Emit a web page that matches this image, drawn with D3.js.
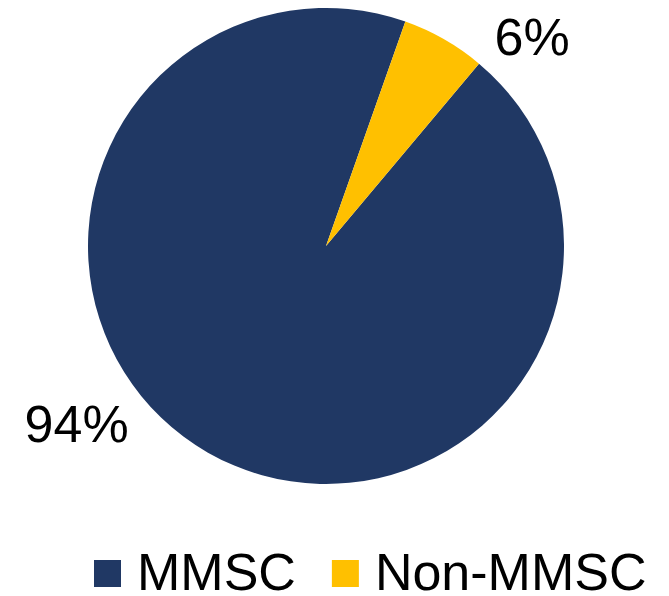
<!DOCTYPE html>
<html>
<head>
<meta charset="utf-8">
<script src="https://cdn.jsdelivr.net/npm/d3@7"></script>
<style>
  html, body { margin: 0; padding: 0; background: #fff; }
  svg { display: block; font-family: "Liberation Sans", Arial, sans-serif; }
</style>
</head>
<body>
<svg id="chart" width="669" height="596"></svg>
<script>
// ---- data ----
const categories = ["MMSC", "Non-MMSC"];
const shares = [94.3, 5.7];
const colors = ["#203864", "#FFC000"];

// ---- layout ----
const W = 669, H = 596;
const cx = 326, cy = 246, R = 238;
const startDeg = 40;                       // first slice starts here (clockwise from 12 o'clock)
const labelPlacement = [                   // polar placement of each percent label
  { angleDeg: 234.6, dist: 306 },
  { angleDeg: 44.5, dist: 294 }
];
const fontSize = 52;

const svg = d3.select("#chart");
const total = d3.sum(shares);
const pie = d3.pie().sort(null).value(d => d)
  .startAngle(startDeg * Math.PI / 180)
  .endAngle(startDeg * Math.PI / 180 + 2 * Math.PI);
const arcs = pie(shares);
const arc = d3.arc().innerRadius(0).outerRadius(R);

const g = svg.append("g").attr("transform", `translate(${cx},${cy})`);
g.selectAll("path").data(arcs).join("path")
  .attr("d", arc)
  .attr("fill", (d, i) => colors[i]);

const fmt = d3.format(".0%");
g.selectAll("text.lbl").data(arcs).join("text")
  .attr("class", "lbl")
  .attr("x", (d, i) => labelPlacement[i].dist * Math.sin(labelPlacement[i].angleDeg * Math.PI / 180))
  .attr("y", (d, i) => -labelPlacement[i].dist * Math.cos(labelPlacement[i].angleDeg * Math.PI / 180))
  .attr("dy", "0.358em")
  .attr("text-anchor", "middle")
  .attr("font-size", fontSize)
  .attr("fill", "#000")
  .text(d => fmt(d.value / total));

// ---- legend ----
const legend = svg.append("g");
const sq = 27, gapText = 16, gapItem = 36;
let x = 94;
const legendTop = 560, baseline = 590;
categories.forEach((c, i) => {
  legend.append("rect")
    .attr("x", x).attr("y", legendTop)
    .attr("width", sq).attr("height", sq)
    .attr("fill", colors[i]);
  const t = legend.append("text")
    .attr("x", x + sq + gapText).attr("y", baseline)
    .attr("font-size", fontSize)
    .attr("fill", "#000")
    .text(c);
  x += sq + gapText + t.node().getComputedTextLength() + gapItem;
});
</script>
</body>
</html>
